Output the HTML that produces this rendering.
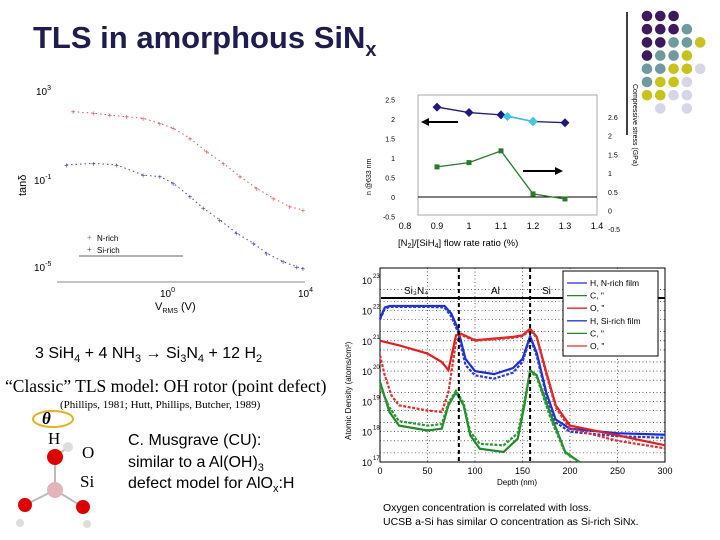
<!DOCTYPE html>
<html><head><meta charset="utf-8"><style>
body{margin:0;background:#fff;}
svg{display:block;font-family:"Liberation Sans",sans-serif;}
.serif{font-family:"Liberation Serif",serif;}
</style></head><body>
<svg id="s" width="720" height="540" viewBox="0 0 720 540">
<text x="33" y="48" font-size="31" font-weight="bold" fill="#1f1d4f">TLS in amorphous SiN<tspan font-size="20" dy="8">x</tspan></text>
<line x1="627" y1="12" x2="627" y2="135" stroke="#000" stroke-width="1.5"/>
<g id="dots"></g>

<!-- left chart -->
<g id="lc">
<line x1="57" y1="282" x2="305" y2="282" stroke="#888"/>
<text x="36" y="95" font-size="10">10<tspan font-size="7" dy="-5">3</tspan></text>
<text x="34" y="184" font-size="10">10<tspan font-size="7" dy="-5">-1</tspan></text>
<text x="34" y="271" font-size="10">10<tspan font-size="7" dy="-5">-5</tspan></text>
<text x="160" y="297" font-size="10">10<tspan font-size="7" dy="-5">0</tspan></text>
<text x="298" y="297" font-size="10">10<tspan font-size="7" dy="-5">4</tspan></text>
<text transform="translate(26,196) rotate(-90)" font-size="11">tanδ</text>
<text x="155" y="310" font-size="11">V<tspan font-size="7" dy="3">RMS</tspan><tspan dy="-3"> (V)</tspan></text>
<text x="87" y="240" font-size="8" fill="#c66">+</text>
<text x="97" y="241" font-size="8">N-rich</text>
<text x="87" y="252" font-size="8" fill="#55a">+</text>
<text x="97" y="253" font-size="8">Si-rich</text>
<line x1="79" y1="256" x2="183" y2="256" stroke="#666"/>
</g>

<!-- top right chart -->
<g id="tc">
<rect x="418" y="95" width="179" height="120" fill="none" stroke="#aaa"/>
<text transform="translate(371,195) rotate(-90)" font-size="7">n @633 nm</text>
<text transform="translate(633,84) rotate(90)" font-size="7">Compressive stress (GPa)</text>
<text x="398" y="246" font-size="9.5">[N<tspan font-size="7" dy="2">2</tspan><tspan dy="-2">]/[SiH</tspan><tspan font-size="7" dy="2">4</tspan><tspan dy="-2">] flow rate ratio (%)</tspan></text>
<line x1="458" y1="122" x2="426" y2="122" stroke="#000" stroke-width="2"/>
<polygon points="421,122 429,118 429,126" fill="#000"/>
<line x1="523" y1="171" x2="557" y2="171" stroke="#000" stroke-width="2"/>
<polygon points="563,171 555,167 555,175" fill="#000"/>
</g>

<!-- SIMS chart -->
<g id="bc"></g>

<text x="35" y="358" font-size="16">3 SiH<tspan font-size="11" dy="4">4</tspan><tspan dy="-4"> + 4 NH</tspan><tspan font-size="11" dy="4">3</tspan><tspan dy="-4"> → Si</tspan><tspan font-size="11" dy="4">3</tspan><tspan dy="-4">N</tspan><tspan font-size="11" dy="4">4</tspan><tspan dy="-4"> + 12 H</tspan><tspan font-size="11" dy="4">2</tspan></text>
<text class="serif" x="5" y="392" font-size="17.5">“Classic” TLS model: OH rotor (point defect)</text>
<text class="serif" x="60" y="408" font-size="11">(Phillips, 1981; Hutt, Phillips, Butcher, 1989)</text>

<g>
<ellipse cx="53" cy="419" rx="20" ry="8" fill="none" stroke="#e8b020" stroke-width="2"/>
<text x="42" y="424" font-size="17" font-weight="bold" font-style="italic" class="serif">θ</text>
<line x1="55" y1="457" x2="55" y2="490" stroke="#bbb" stroke-width="2"/>
<line x1="55" y1="490" x2="25" y2="505" stroke="#bbb" stroke-width="2"/>
<line x1="55" y1="490" x2="83" y2="507" stroke="#bbb" stroke-width="2"/>
<line x1="55" y1="457" x2="68" y2="447" stroke="#bbb" stroke-width="2"/>
<circle cx="68" cy="447" r="5" fill="#ddd"/>
<circle cx="55" cy="457" r="8" fill="#d00"/>
<circle cx="55" cy="490" r="8" fill="#e3b5bb"/>
<circle cx="25" cy="505" r="7" fill="#d00"/>
<circle cx="83" cy="507" r="7" fill="#d00"/>
<circle cx="20" cy="523" r="4" fill="#ddd"/>
<circle cx="87" cy="524" r="4" fill="#ddd"/>
<text class="serif" x="48" y="444" font-size="17">H</text>
<text class="serif" x="82" y="458" font-size="17">O</text>
<text class="serif" x="80" y="487" font-size="17">Si</text>
</g>
<text x="128" y="445" font-size="16">C. Musgrave (CU):</text>
<text x="128" y="467" font-size="16">similar to a Al(OH)<tspan font-size="11" dy="4">3</tspan></text>
<text x="128" y="488" font-size="16">defect model for AlO<tspan font-size="11" dy="4">x</tspan><tspan dy="-4">:H</tspan></text>
<text x="383" y="511" font-size="10.5">Oxygen concentration is correlated with loss.</text>
<text x="383" y="525" font-size="10.5">UCSB a-Si has similar O concentration as Si-rich SiNx.</text>
</svg>
<script>
var NS="http://www.w3.org/2000/svg";
function mk(p,t,a){var e=document.createElementNS(NS,t);for(var k in a)e.setAttribute(k,a[k]);p.appendChild(e);return e;}

// decor dots
var P="#3d1a5e",T="#6f9a9e",Y="#c8c31c",L="#d6d6e6";
var dotRows=[[P,P,P],[P,P,P,T],[P,P,T,T,Y],[P,T,T,Y],[T,T,Y,Y,L],[T,Y,Y,L],[Y,Y,L,L],[null,L,null,L]];
var dg=document.getElementById('dots');
dotRows.forEach(function(r,i){r.forEach(function(c,j){if(!c)return;
 var d=mk(dg,'circle',{cx:647+j*13.3,cy:16+i*13.2,r:5.3,fill:c});
 
 });});

// left chart: log10 values
var nrichX=[-2.68,-2.10,-1.63,-1.15,-0.68,-0.2,0.18,0.66,1.13,1.61,2.09,2.56,3.04,3.51,3.89];
var nrichY=[2.02,1.95,1.87,1.79,1.72,1.49,1.27,0.81,0.21,-0.32,-0.92,-1.45,-1.90,-2.28,-2.43];
var sirichX=[-2.87,-2.10,-1.44,-0.68,-0.2,0.18,0.66,1.04,1.51,1.99,2.47,2.85,3.32,3.70,3.89];
var sirichY=[-0.39,-0.32,-0.39,-0.85,-0.92,-1.22,-1.83,-2.35,-2.88,-3.48,-3.94,-4.39,-4.77,-5.0,-5.07];
function lx(v){return 167+v*35;} function ly(v){return 90+(3-v)*22.1;}
var lc=document.getElementById('lc');
function lossSeries(xs,ys,col,name){
 var pts=xs.map(function(x,i){return lx(x)+','+ly(ys[i]);}).join(' ');
 var pl=mk(lc,'polyline',{points:pts,fill:'none',stroke:col,'stroke-width':1,'stroke-dasharray':'1.5,3'});
 
 
 xs.forEach(function(x,i){var t=mk(lc,'text',{x:lx(x)-2.5,y:ly(ys[i])+3,'font-size':8,fill:col});t.textContent='+';
  
  });
}
lossSeries(nrichX,nrichY,'#d55','nrich');
lossSeries(sirichX,sirichY,'#44a','sirich');

// top right chart
var ratio=[0.9,1.0,1.1,1.2,1.3];
var nIndex=[2.3,2.16,2.1,1.93,1.9];
var cyanX=[1.12,1.2]; var cyanY=[2.06,1.93];
var stress=[0.77,0.88,1.18,0.08,-0.05];
var xTicks=[0.8,0.9,1,1.1,1.2,1.3,1.4];
var yTicks=[2.5,2,1.5,1,0.5,0,-0.5];
var rTicks=['2.6','2','1.5','1','0.5','0','-0.5'];
function tx(v){return 405+(v-0.8)*320;} function ty(v){return 197-v*39.1;}
var tc=document.getElementById('tc');
var zl=mk(tc,'line',{x1:418,y1:ty(0),x2:597,y2:ty(0),stroke:'#000'});


xTicks.forEach(function(v){var t=mk(tc,'text',{x:tx(v),y:229,'font-size':9,'text-anchor':'middle'});t.textContent=String(v);
 
 });
yTicks.forEach(function(v){var t=mk(tc,'text',{x:395,y:ty(v)+3,'font-size':7,'text-anchor':'end'});t.textContent=String(v);
 
 });
rTicks.forEach(function(s,i){var t=mk(tc,'text',{x:608,y:120+i*18.7,'font-size':7});t.textContent=s;
 
 });
function tser(xs,ys,col,shape,name){
 var pl=mk(tc,'polyline',{points:xs.map(function(x,i){return tx(x)+','+ty(ys[i]);}).join(' '),fill:'none',stroke:col,'stroke-width':1.3});
 
 
 xs.forEach(function(x,i){var cx=tx(x),cy=ty(ys[i]),m;
  if(shape==='d')m=mk(tc,'polygon',{points:(cx)+','+(cy-4.5)+' '+(cx+4.5)+','+cy+' '+cx+','+(cy+4.5)+' '+(cx-4.5)+','+cy,fill:col});
  else m=mk(tc,'rect',{x:cx-2.5,y:cy-2.5,width:5,height:5,fill:col});
  
  });
}
tser(ratio,nIndex,'#1a1a80','d','refractive-index');
tser(cyanX,cyanY,'#3cc8e8','d','refractive-index-alt');
tser(ratio,stress,'#2a7a2a','s','stress');

// SIMS chart
var hNX=[0,5,10,30,50,68,75,82,90,100,120,140,150,158,165,175,185,200,250,300];
var hNY=[21.73,22.1,22.15,22.15,22.15,22.15,21.9,21.4,20.4,20.0,19.9,20.1,20.4,21.15,20.6,19.3,18.4,18.1,17.95,17.9];
var hSX=[0,5,10,30,50,68,75,82,90,100,120,140,150,158,165,175,185,200,250,300];
var hSY=[21.7,22.05,22.12,22.12,22.12,22.1,21.8,21.3,20.2,19.86,19.75,19.95,20.3,21.1,20.5,19.2,18.3,18.0,17.85,17.8];
var oNX=[0,20,50,65,72,80,85,100,140,150,158,165,175,185,200,250,300];
var oNY=[21.0,20.85,20.58,20.3,20.03,21.18,21.24,21.02,21.13,21.18,21.4,21.13,19.97,18.87,18.2,17.88,17.55];
var oSX=[0,5,12,20,50,65,72,80,85,100,140,150,158,165,175,185,200,250,300];
var oSY=[20.52,19.86,19.2,18.87,18.7,18.65,19.3,20.96,21.2,21.0,21.1,21.15,21.35,21.1,19.9,18.8,18.1,17.7,17.45];
var cNX=[0,10,20,50,65,72,80,88,95,105,130,145,152,158,165,180,195,210];
var cNY=[19.64,18.65,18.2,18.04,18.1,18.87,19.3,18.87,17.88,17.44,17.33,17.77,18.87,20.03,19.86,18.54,17.33,17.0];
var cSX=[0,10,20,50,65,72,80,88,95,105,130,145,152,158,165,180,195,210];
var cSY=[19.5,18.8,18.35,18.2,18.25,18.95,19.35,18.95,18.0,17.6,17.55,17.95,19.0,20.0,19.8,18.4,17.3,17.0];
var depthTicks=[0,50,100,150,200,250,300];
var decades=[17,18,19,20,21,22,23];
function sx(v){return 380+v*0.95;} function sy(v){return 462-(v-17)*30.3;}
var bc=document.getElementById('bc');
function nm(e,n){return e;}
nm(mk(bc,'rect',{x:380,y:268,width:285,height:194,fill:'#fff',stroke:'#000'}),'plot-frame');
for(var d=17;d<23;d++){[1,2,5].forEach(function(k){var yy=sy(d+Math.log10(k));
 var gl=mk(bc,'line',{x1:380,y1:yy,x2:665,y2:yy,stroke:'#000','stroke-width':0.6,'stroke-dasharray':'1,2.5'});
 
 });}
depthTicks.forEach(function(v){
 var gl=mk(bc,'line',{x1:sx(v),y1:268,x2:sx(v),y2:462,stroke:'#000','stroke-width':0.6,'stroke-dasharray':'1,2.5'});
 
 
 var t=mk(bc,'text',{x:sx(v),y:474,'font-size':9,'text-anchor':'middle'});t.textContent=String(v);
 
 });
decades.forEach(function(v){var t=mk(bc,'text',{x:362,y:sy(v)+4,'font-size':9});t.textContent='10';
 
 
 var s=mk(bc,'text',{x:373,y:sy(v)-2,'font-size':6});s.textContent=String(v);
 
 });
var yt=mk(bc,'text',{transform:'translate(351,440) rotate(-90)','font-size':8});yt.textContent='Atomic Density (atoms/cm³)';


var xt=mk(bc,'text',{x:497,y:485,'font-size':8});xt.textContent='Depth (nm)';


function sims(xs,ys,col,mark,name){
 var pl=mk(bc,'polyline',{points:xs.map(function(x,i){return sx(x)+','+sy(ys[i]);}).join(' '),fill:'none',stroke:col,'stroke-width':2.2,'stroke-dasharray':mark==='o'?'3,1.5':'none'});
 
 
}
sims(hNX,hNY,'#1b2fd8','+','h-nrich-series');
sims(hSX,hSY,'#2a3ad0','o','h-sirich-series');
sims(oNX,oNY,'#e02020','+','o-nrich-series');
sims(oSX,oSY,'#e23030','o','o-sirich-series');
sims(cNX,cNY,'#1f8a2a','x','c-nrich-series');
sims(cSX,cSY,'#2a9a30','o','c-sirich-series');
[83,158].forEach(function(v){var l=mk(bc,'line',{x1:sx(v),y1:268,x2:sx(v),y2:462,stroke:'#000','stroke-width':2,'stroke-dasharray':'4,3'});
 
 });
nm(mk(bc,'line',{x1:381,y1:298,x2:665,y2:298,stroke:'#000','stroke-width':2}),'region-arrow');
[['Si₃N₄',404],['Al',491],['Si',542]].forEach(function(a){var t=mk(bc,'text',{x:a[1],y:294,'font-size':10});t.textContent=a[0];
 
 });
nm(mk(bc,'rect',{x:563,y:271,width:95,height:85,fill:'#fff',stroke:'#000'}),'legend-box');
var legNames=['H, N-rich film','C,    "','O,    "','H, Si-rich film','C,    "','O,    "'];
var legCols=['#1b2fd8','#1f8a2a','#e02020','#2a3ad0','#1f8a2a','#e23030'];
legNames.forEach(function(s,i){var y=283+i*12.6;
 var l=mk(bc,'line',{x1:567,y1:y,x2:587,y2:y,stroke:legCols[i],'stroke-width':1.3});
 
 
 var t=mk(bc,'text',{x:590,y:y+3,'font-size':8.5});t.textContent=s;
 
 });
</script>
</body></html>
